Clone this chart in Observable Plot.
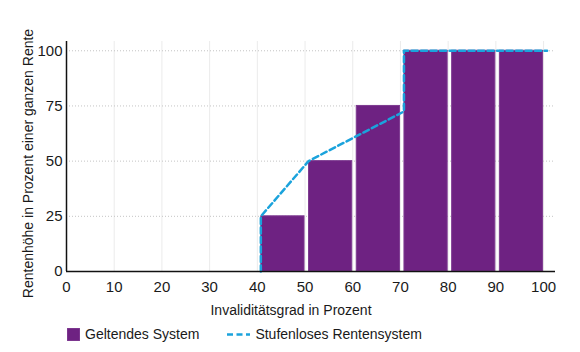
<!DOCTYPE html>
<html>
<head>
<meta charset="utf-8">
<script src="https://cdn.jsdelivr.net/npm/d3@7"></script>
<script src="https://cdn.jsdelivr.net/npm/@observablehq/plot@0.6"></script>
<style>
  body { margin: 0; background: #fff; font-family: "Liberation Sans", Arial, sans-serif; color: #1a1a1a; }
  #legend { display: flex; align-items: center; height: 22px; margin-top: 5px; padding-left: 67px; font-size: 14px; }
  #legend .item { display: flex; align-items: center; margin-right: 28px; }
  #legend svg { margin-right: 5px; }
</style>
</head>
<body>
<div id="chart"></div>
<div id="legend"></div>
<script>
const barStart = [40, 50, 60, 70, 80, 90];
const barEnd = [50, 60, 70, 80, 90, 100];
const barValue = [25, 50, 75, 100, 100, 100];
const lineX = [40, 40, 50, 70, 70, 100];
const lineY = [0, 25, 50, 72.5, 100, 100];
const xTicks = [0, 10, 20, 30, 40, 50, 60, 70, 80, 90, 100];
const yTicks = [0, 25, 50, 75, 100];
const seriesNames = ["Geltendes System", "Stufenloses Rentensystem"];
const xTitle = "Invaliditätsgrad in Prozent";
const yTitle = "Rentenhöhe in Prozent einer ganzen Rente";
const purple = "#6e2282";
const blue = "#1ba3dc";

const bars = barStart.map((s, i) => ({x1: s, x2: barEnd[i], y: barValue[i]}));
const linePts = lineX.map((x, i) => ({x, y: lineY[i]}));

const chart = Plot.plot({
  width: 580,
  height: 318,
  marginLeft: 66,
  marginRight: 25,
  marginTop: 41,
  marginBottom: 47,
  style: {fontFamily: '"Liberation Sans", Arial, sans-serif', fontSize: "15px", color: "#1a1a1a", background: "white", overflow: "visible"},
  x: {domain: [0, 102.5]},
  y: {domain: [0, 104.2]},
  marks: [
    Plot.gridX(xTicks.slice(1), {stroke: "#ebebeb", strokeOpacity: 1}),
    Plot.gridY(yTicks.slice(1), {stroke: "#c4c4c4", strokeOpacity: 1, strokeDasharray: "1,2"}),
    Plot.rectY(bars, {x1: "x1", x2: "x2", y: "y", fill: purple, stroke: "#7d3a90", strokeWidth: 1, insetLeft: 4, insetRight: 0.5}),
    Plot.line(linePts, {x: "x", y: "y", stroke: blue, strokeWidth: 2.5, strokeDasharray: "6,3.5", dx: 3.5}),
    Plot.ruleY([0], {stroke: "#111", strokeWidth: 1.5}),
    Plot.ruleX([0], {stroke: "#111", strokeWidth: 1.5}),
    Plot.axisX(xTicks, {tickSize: 0, tickPadding: 10, label: null, fontSize: 15}),
    Plot.axisY(yTicks, {tickSize: 0, tickPadding: 4, label: null, fontSize: 15}),
    Plot.text([xTitle], {frameAnchor: "bottom", lineAnchor: "middle", textAnchor: "middle", dx: -20, dy: 39, fontSize: 14, fill: "#1a1a1a"}),
    Plot.text([yTitle], {frameAnchor: "left", textAnchor: "middle", lineAnchor: "middle", rotate: -90, dx: -38, dy: 7, fontSize: 14, fill: "#1a1a1a"})
  ]
});
document.getElementById("chart").appendChild(chart);

const legend = document.getElementById("legend");
legend.innerHTML =
  `<div class="item"><svg width="13" height="13"><rect width="13" height="13" fill="${purple}" stroke="#8a4b9c" stroke-width="1"/></svg><span>${seriesNames[0]}</span></div>` +
  `<div class="item"><svg width="23" height="13"><line x1="0" x2="23" y1="6.5" y2="6.5" stroke="${blue}" stroke-width="2.5" stroke-dasharray="6,3.5"/></svg><span>${seriesNames[1]}</span></div>`;
</script>
</body>
</html>
